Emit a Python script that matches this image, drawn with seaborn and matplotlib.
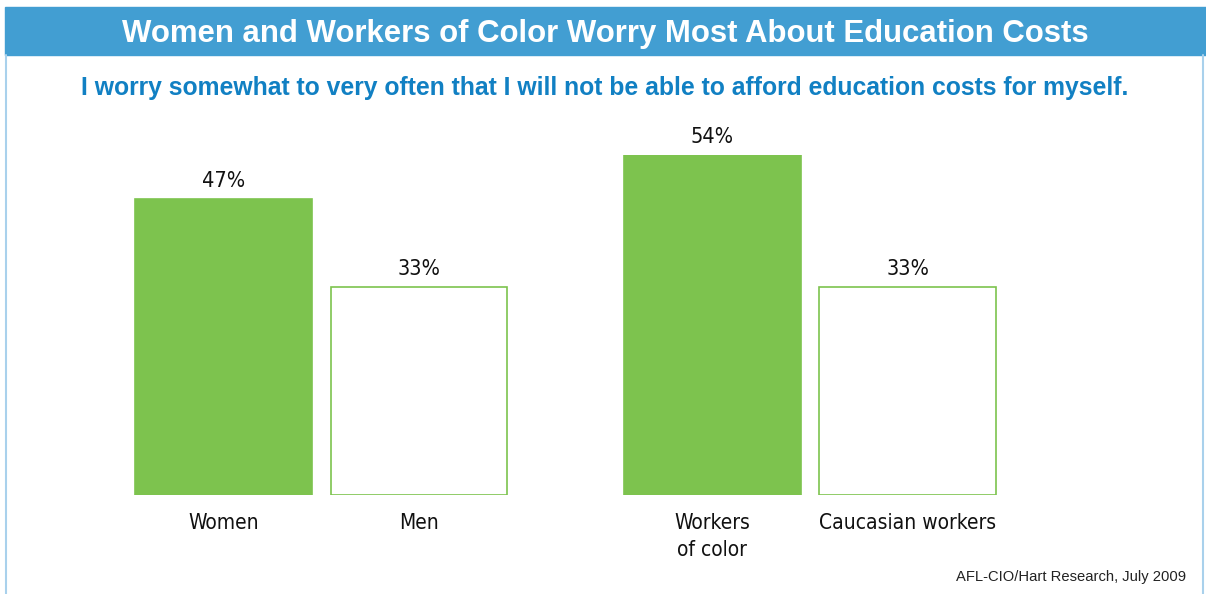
import matplotlib
matplotlib.use("Agg")
import matplotlib.pyplot as plt
import seaborn as sns
import pandas as pd

# chart data
categories = ["Women", "Men", "Workers\nof color", "Caucasian workers"]
values = [47, 33, 54, 33]
fills = ["filled", "hollow", "filled", "hollow"]
positions = [0, 1, 2.5, 3.5]

title = "Women and Workers of Color Worry Most About Education Costs"
subtitle = "I worry somewhat to very often that I will not be able to afford education costs for myself."
source = "AFL-CIO/Hart Research, July 2009"

GREEN = "#7dc34e"
HEADER = "#429ed2"
SUB_BLUE = "#1180c3"
BORDER = "#a9d1ec"

sns.set_style("white")
plt.rcParams["font.family"] = ["Liberation Sans", "DejaVu Sans"]

df = pd.DataFrame({"pos": positions, "value": values, "fill": fills, "label": categories})

fig = plt.figure(figsize=(12.06, 5.94), dpi=100)
W, H = 1206, 594

# axes placed so that baseline sits at y=495px and 54% reaches y=155px
ax = fig.add_axes([100 / W, (H - 495) / H, 1000 / W, 340 / H])
sns.barplot(data=df, x="pos", y="value", hue="fill",
            palette={"filled": GREEN, "hollow": "white"}, saturation=1,
            native_scale=True, width=0.905, dodge=False, legend=False, ax=ax)
for p in ax.patches:
    p.set_edgecolor(GREEN)
    p.set_linewidth(1.2)

ax.set_ylim(0, 54)
ax.set_xlim(-123.5 / 195.5, -123.5 / 195.5 + 1000 / 195.5)
ax.set_axis_off()

lab_font = dict(family="DejaVu Sans", stretch="condensed", color="#111111")
for x, v in zip(positions, values):
    ax.text(x, v + 1.3, f"{v}%", ha="center", va="bottom", fontsize=15.5, **lab_font)
for x, lab in zip(positions, categories):
    ax.text(x, -2.9, lab, ha="center", va="top", fontsize=15, linespacing=1.4, **lab_font)

# header band and frame
fig.patches.append(plt.Rectangle((5 / W, (H - 55) / H), 1201 / W, 48 / H,
                                 transform=fig.transFigure, color=HEADER, zorder=0))
fig.add_artist(plt.Line2D([6 / W, 6 / W], [0, (H - 55) / H], color=BORDER, lw=1.5))
fig.add_artist(plt.Line2D([1203 / W, 1203 / W], [0, (H - 55) / H], color=BORDER, lw=1.5))

fig.text(605 / W, 1 - 34 / H, title, ha="center", va="center", color="white",
         fontsize=22.4, fontweight="bold")
fig.text(605 / W, 1 - 88 / H, subtitle, ha="center", va="center", color=SUB_BLUE,
         fontsize=17.8, fontweight="bold")
fig.text(1186 / W, 1 - 577 / H, source, ha="right", va="center", color="#222222",
         fontsize=10.6)

fig.savefig("out.png", dpi=100)
